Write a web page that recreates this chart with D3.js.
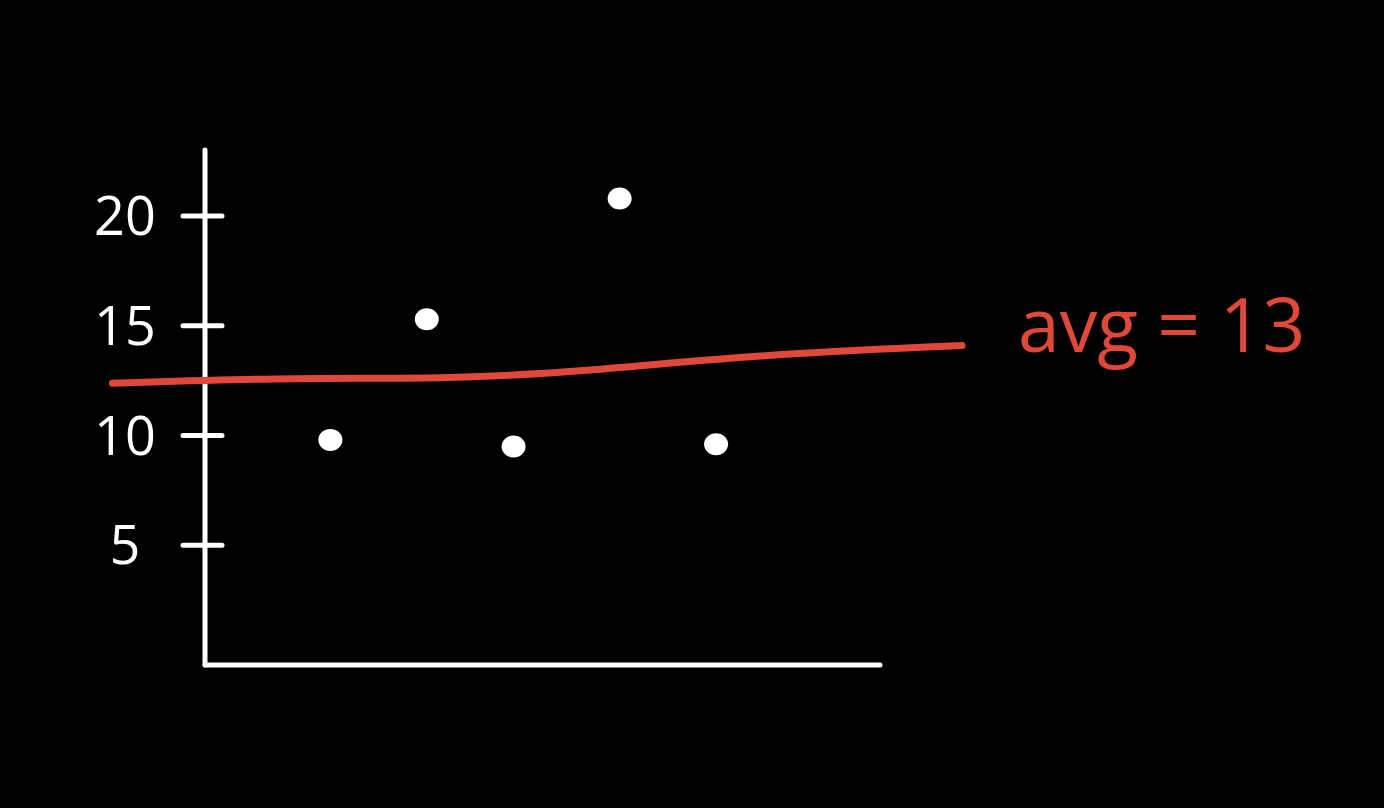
<!DOCTYPE html>
<html>
<head>
<meta charset="utf-8">
<script src="https://cdn.jsdelivr.net/npm/d3@7"></script>
<style>
  html, body { margin: 0; padding: 0; background: #000; }
  svg { display: block; }
  .tick-label { fill: #fff; font-family: "Open Sans", sans-serif; font-size: 54px; }
  .avg-label { fill: #e0483a; font-family: "Open Sans", sans-serif; font-size: 75px; }
</style>
</head>
<body>
<svg id="chart"></svg>
<script>
// valeurs
var pointX = [1.3, 2.3, 3.2, 4.3, 5.3];
var pointY = [9.8, 15.3, 9.5, 20.8, 9.6];
var yTicks = [5, 10, 15, 20];
// trait rouge de la moyenne (dessiné à main levée, légèrement montant)
var avgLineX = [-0.96, 0.99, 2.54, 4.1, 5.65, 7.85];
var avgLineY = [12.38, 12.65, 12.56, 12.97, 13.66, 14.1];

var width = 1384, height = 808;
var svg = d3.select('#chart').attr('width', width).attr('height', height);

var x = d3.scaleLinear().domain([0, 7]).range([205, 880]);
var y = d3.scaleLinear().domain([0, 20]).range([655, 216]);

var avg = d3.mean(pointY);

/* axes */
svg.append('line')
    .attr('x1', x(0)).attr('x2', x(0))
    .attr('y1', 150).attr('y2', 665)
    .style('stroke', '#fff').style('stroke-width', 5).style('stroke-linecap', 'round');
svg.append('line')
    .attr('x1', x(0)).attr('x2', x(7))
    .attr('y1', 665).attr('y2', 665)
    .style('stroke', '#fff').style('stroke-width', 5).style('stroke-linecap', 'round');

// graduations en croix
var ticks = svg.append('g').selectAll('g').data(yTicks).enter().append('g');
ticks.append('line')
    .attr('x1', x(0) - 22).attr('x2', x(0) + 17)
    .attr('y1', function(d){ return y(d); })
    .attr('y2', function(d){ return y(d); })
    .style('stroke', '#fff').style('stroke-width', 5).style('stroke-linecap', 'round');
ticks.append('text')
    .attr('class', 'tick-label')
    .attr('x', x(0) - 80)
    .attr('y', function(d){ return y(d) + 19; })
    .attr('text-anchor', 'middle')
    .text(function(d){ return d; });

/* ligne de moyenne */
var avgLine = d3.line()
    .x(function(d){ return x(d[0]); })
    .y(function(d){ return y(d[1]); })
    .curve(d3.curveBasis);
svg.append('path')
    .datum(d3.zip(avgLineX, avgLineY))
    .attr('d', avgLine)
    .style('fill', 'none')
    .style('stroke', '#e0483a')
    .style('stroke-width', 7)
    .style('stroke-linecap', 'round');

svg.append('text')
    .attr('class', 'avg-label')
    .attr('x', 1018)
    .attr('y', 352)
    .text('avg = ' + Math.round(avg));

/* points */
svg.append('g').selectAll('ellipse')
    .data(d3.zip(pointX, pointY))
    .enter().append('ellipse')
    .attr('cx', function(d){ return x(d[0]); })
    .attr('cy', function(d){ return y(d[1]); })
    .attr('rx', 12).attr('ry', 11)
    .style('fill', '#fff');
</script>
</body>
</html>
